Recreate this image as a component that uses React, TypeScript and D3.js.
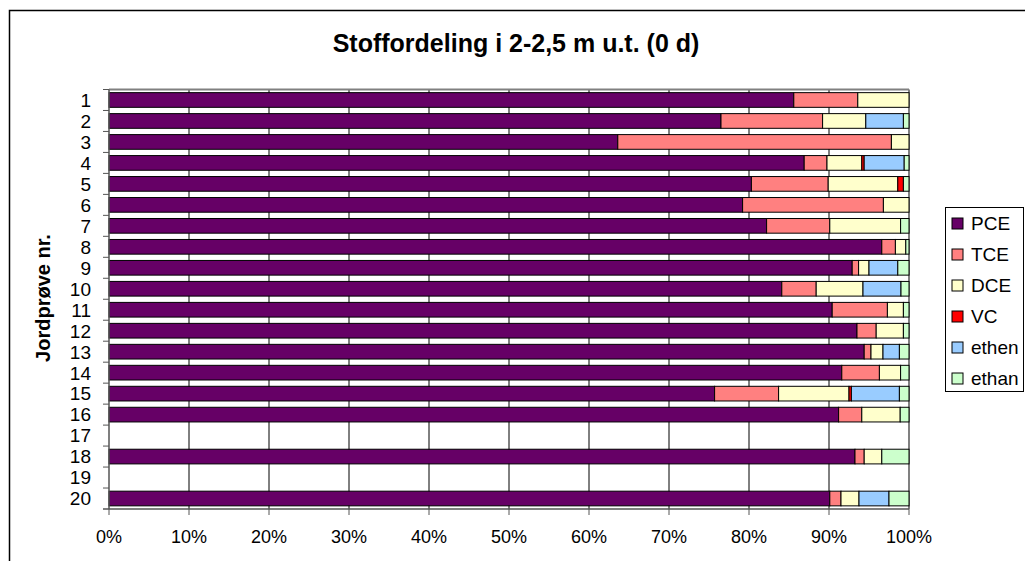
import React from "react";
import * as d3 from "d3";

const categories = ["1","2","3","4","5","6","7","8","9","10","11","12","13","14","15","16","17","18","19","20"];
const seriesNames = ["PCE","TCE","DCE","VC","ethen","ethan"];
const seriesColors = ["#660066","#FF8080","#FFFFCC","#FF0000","#99CCFF","#CCFFCC"];

const pce   = [85.6, 76.5, 63.6, 86.9, 80.3, 79.2, 82.2, 96.6, 92.9, 84.1, 90.4, 93.5, 94.4, 91.6, 75.7, 91.2, null, 93.25, null, 90.1];
const tce   = [8.0, 12.7, 34.2, 2.85, 9.6, 17.6, 7.9, 1.7, 0.8, 4.3, 6.9, 2.4, 0.85, 4.7, 8.0, 2.9, null, 1.15, null, 1.4];
const dce   = [6.4, 5.4, 2.2, 4.35, 8.7, 3.2, 8.85, 1.3, 1.3, 5.85, 2.0, 3.4, 1.5, 2.65, 8.8, 4.8, null, 2.2, null, 2.25];
const vc    = [0, 0, 0, 0.3, 0.7, 0, 0, 0, 0, 0, 0, 0, 0, 0, 0.3, 0, null, 0, null, 0];
const ethen = [0, 4.7, 0, 5.0, 0, 0, 0, 0, 3.6, 4.75, 0, 0, 2.05, 0, 6.0, 0, null, 0, null, 3.75];
const ethan = [0, 0.7, 0, 0.6, 0.7, 0, 1.05, 0.4, 1.4, 1.0, 0.7, 0.7, 1.2, 1.05, 1.2, 1.1, null, 3.4, null, 2.5];

const xTicks = [0, 0.1, 0.2, 0.3, 0.4, 0.5, 0.6, 0.7, 0.8, 0.9, 1.0];

const FONT = "'Liberation Sans', Arial, sans-serif";

export default function App() {
  const W = 1025, H = 561;
  const plot = { left: 109, right: 909, top: 89.5, bottom: 509 };
  const seriesArrays = [pce, tce, dce, vc, ethen, ethan];
  const rows = categories.map((c, i) => {
    const r: any = { cat: c, empty: pce[i] === null };
    seriesNames.forEach((s, k) => { r[s] = seriesArrays[k][i] ?? 0; });
    return r;
  });
  const stacked = d3.stack().keys(seriesNames).offset(d3.stackOffsetExpand)(rows as any);
  const x = d3.scaleLinear().domain([0, 1]).range([plot.left, plot.right]);
  const y = d3.scaleBand().domain(categories).range([plot.top, plot.bottom]).paddingInner(0.3).paddingOuter(0.15);
  const step = (plot.bottom - plot.top) / categories.length;

  return (
    <svg width={W} height={H} style={{ position: "absolute", left: 0, top: 0, background: "#fff" }} fontFamily={FONT}>
      <rect x={0} y={0} width={W} height={H} fill="#fff" />
      <rect x={9.5} y={10.5} width={1200} height={700} fill="none" stroke="#000" strokeWidth={1.5} />
      <text x={516} y={52} textAnchor="middle" fontSize={25} fontWeight="bold">Stoffordeling i 2-2,5 m u.t. (0 d)</text>

      {/* gridlines */}
      {xTicks.slice(1, -1).map((t) => (
        <line key={t} x1={x(t)} x2={x(t)} y1={plot.top} y2={plot.bottom} stroke="#000" strokeWidth={1} />
      ))}
      {/* plot border */}
      <line x1={plot.left} x2={plot.right} y1={plot.top} y2={plot.top} stroke="#808080" strokeWidth={2} />
      <line x1={plot.right} x2={plot.right} y1={plot.top} y2={plot.bottom} stroke="#808080" strokeWidth={2} />

      {/* bars */}
      {stacked.map((layer, k) => (
        <g key={seriesNames[k]} fill={seriesColors[k]} stroke="#000" strokeWidth={1}>
          {layer.map((d: any, i: number) => {
            if (rows[i].empty) return null;
            const w = x(d[1]) - x(d[0]);
            if (w <= 0.01) return null;
            return <rect key={i} x={x(d[0])} y={y(categories[i])} width={w} height={y.bandwidth()} />;
          })}
        </g>
      ))}

      {/* axes */}
      <line x1={plot.left} x2={plot.left} y1={plot.top} y2={plot.bottom} stroke="#555" strokeWidth={1.5} />
      <line x1={plot.left - 6} x2={plot.right} y1={plot.bottom} y2={plot.bottom} stroke="#555" strokeWidth={1.5} />
      {categories.map((c, i) => (
        <g key={c}>
          <line x1={plot.left - 6} x2={plot.left} y1={plot.top + step * i} y2={plot.top + step * i} stroke="#555" strokeWidth={1} />
          <text x={91} y={(y(c) as number) + y.bandwidth() / 2} dy="0.36em" textAnchor="end" fontSize={19}>{c}</text>
        </g>
      ))}
      {xTicks.map((t) => (
        <g key={t}>
          <line x1={x(t)} x2={x(t)} y1={plot.bottom} y2={plot.bottom + 6} stroke="#555" strokeWidth={1} />
          <text x={x(t)} y={543} textAnchor="middle" fontSize={18}>{d3.format(".0%")(t)}</text>
        </g>
      ))}
      <text transform={`translate(50,298) rotate(-90)`} textAnchor="middle" fontSize={20} fontWeight="bold">Jordprøve nr.</text>

      {/* legend */}
      <rect x={945.5} y={207.5} width={78} height={184} fill="#fff" stroke="#000" strokeWidth={1} />
      {seriesNames.map((s, k) => {
        const cy = 223.5 + k * 31;
        return (
          <g key={s}>
            <rect x={952} y={cy - 5.5} width={11} height={11} fill={seriesColors[k]} stroke="#000" strokeWidth={1} />
            <text x={971} y={cy} dy="0.36em" fontSize={19}>{s}</text>
          </g>
        );
      })}
    </svg>
  );
}
